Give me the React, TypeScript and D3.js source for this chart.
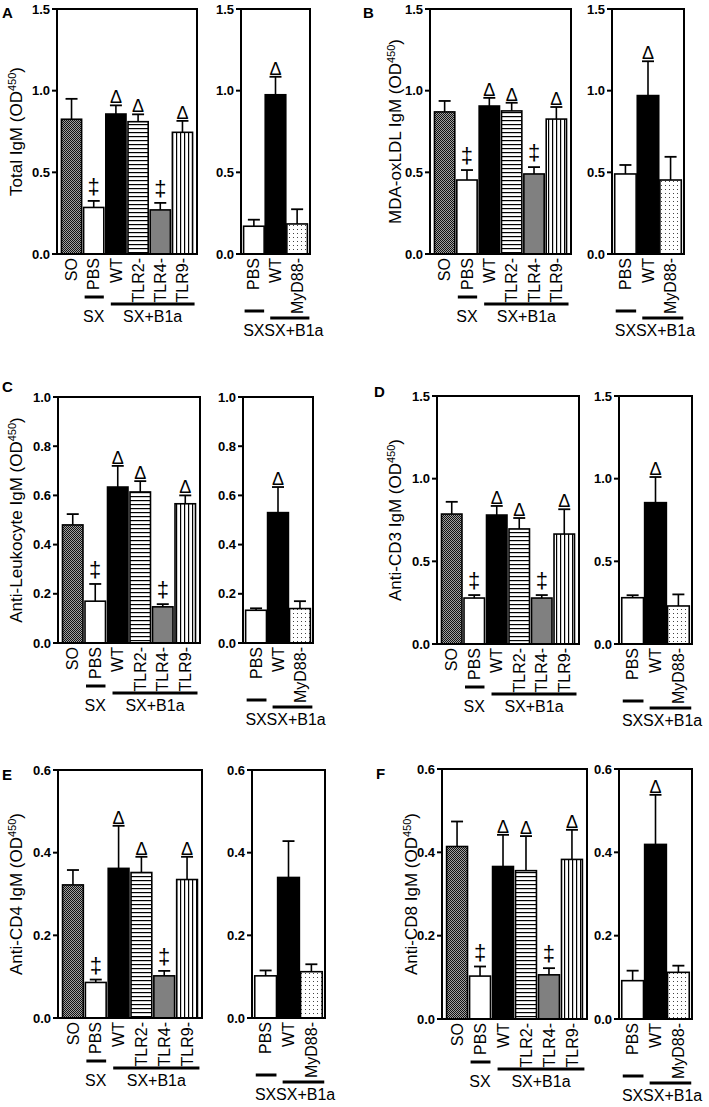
import React from "react";
import * as d3 from "d3";

// ---------- data ----------
const LEFT_CATS = ["SO", "PBS", "WT", "TLR2-", "TLR4-", "TLR9-"];
const RIGHT_CATS = ["PBS", "WT", "MyD88-"];
const LEFT_MARKS = ["", "‡", "Δ", "Δ", "‡", "Δ"];
const RIGHT_MARKS = ["", "Δ", ""];
const RIGHT_MARKS_NONE = ["", "", ""];

const TICKS_15 = [0, 0.5, 1.0, 1.5];
const TICKS_10 = [0, 0.2, 0.4, 0.6, 0.8, 1.0];
const TICKS_06 = [0, 0.2, 0.4, 0.6];

const PANEL_LETTERS = ["A", "B", "C", "D", "E", "F"];
const Y_TITLES = ["Total IgM", "MDA-oxLDL IgM", "Anti-Leukocyte IgM", "Anti-CD3 IgM", "Anti-CD4 IgM", "Anti-CD8 IgM"];

const A_LEFT = [0.825, 0.285, 0.857, 0.81, 0.27, 0.745];
const A_LEFT_ERR = [0.125, 0.04, 0.053, 0.045, 0.043, 0.07];
const A_RIGHT = [0.17, 0.975, 0.184];
const A_RIGHT_ERR = [0.04, 0.11, 0.09];

const B_LEFT = [0.87, 0.453, 0.906, 0.876, 0.49, 0.826];
const B_LEFT_ERR = [0.067, 0.061, 0.05, 0.05, 0.042, 0.074];
const B_RIGHT = [0.49, 0.97, 0.453];
const B_RIGHT_ERR = [0.055, 0.21, 0.142];

const C_LEFT = [0.48, 0.17, 0.634, 0.614, 0.147, 0.566];
const C_LEFT_ERR = [0.044, 0.07, 0.086, 0.044, 0.011, 0.034];
const C_RIGHT = [0.133, 0.53, 0.14];
const C_RIGHT_ERR = [0.008, 0.104, 0.03];

const D_LEFT = [0.786, 0.278, 0.78, 0.696, 0.278, 0.665];
const D_LEFT_ERR = [0.074, 0.018, 0.055, 0.066, 0.018, 0.15];
const D_RIGHT = [0.28, 0.855, 0.23];
const D_RIGHT_ERR = [0.015, 0.155, 0.07];

const E_LEFT = [0.322, 0.086, 0.362, 0.352, 0.102, 0.335];
const E_LEFT_ERR = [0.036, 0.007, 0.103, 0.038, 0.012, 0.055];
const E_RIGHT = [0.102, 0.34, 0.112];
const E_RIGHT_ERR = [0.013, 0.088, 0.018];

const F_LEFT = [0.414, 0.103, 0.366, 0.356, 0.106, 0.383];
const F_LEFT_ERR = [0.06, 0.023, 0.076, 0.083, 0.016, 0.071];
const F_RIGHT = [0.092, 0.419, 0.112];
const F_RIGHT_ERR = [0.024, 0.119, 0.016];

// ---------- layout ----------
const FONT = "'Liberation Sans', Arial, Helvetica, sans-serif";

const FILL: Record<string, string> = {
  "SO": "url(#pSO)",
  "PBS": "#ffffff",
  "WT": "#000000",
  "TLR2-": "url(#pH)",
  "TLR4-": "#808080",
  "TLR9-": "url(#pV)",
  "MyD88-": "url(#pDot)",
};

type PlotCfg = {
  x0: number; x1: number; top: number; bot: number;
  cats: string[]; vals: number[]; errs: number[]; marks: string[];
  max: number; ticks: number[];
  lineY: [number, number]; textY: number; right: boolean;
};

type PanelCfg = {
  letter: string; lx: number; ly: number; title: string; tx: number;
  left: PlotCfg; rightP: PlotCfg;
};

function mk(x0: number, x1: number, top: number, bot: number, cats: string[], vals: number[], errs: number[], marks: string[], max: number, ticks: number[], right: boolean): PlotCfg {
  const lineY: [number, number] = right ? [bot + 57, bot + 64] : [bot + 43, bot + 50];
  const textY = right ? bot + 82 : bot + 68;
  return { x0, x1, top, bot, cats, vals, errs, marks, max, ticks, lineY, textY, right };
}

const PANELS: PanelCfg[] = [
  {
    letter: PANEL_LETTERS[0], lx: 2, ly: 18, title: Y_TITLES[0], tx: 16,
    left: mk(57, 197, 9, 254, LEFT_CATS, A_LEFT, A_LEFT_ERR, LEFT_MARKS, 1.5, TICKS_15, false),
    rightP: mk(241, 310, 9, 254, RIGHT_CATS, A_RIGHT, A_RIGHT_ERR, RIGHT_MARKS, 1.5, TICKS_15, true),
  },
  {
    letter: PANEL_LETTERS[1], lx: 363, ly: 18, title: Y_TITLES[1], tx: 395,
    left: mk(430, 571, 9, 254, LEFT_CATS, B_LEFT, B_LEFT_ERR, LEFT_MARKS, 1.5, TICKS_15, false),
    rightP: mk(612, 684, 9, 254, RIGHT_CATS, B_RIGHT, B_RIGHT_ERR, RIGHT_MARKS, 1.5, TICKS_15, true),
  },
  {
    letter: PANEL_LETTERS[2], lx: 2, ly: 392, title: Y_TITLES[2], tx: 16,
    left: mk(58, 200, 397, 643, LEFT_CATS, C_LEFT, C_LEFT_ERR, LEFT_MARKS, 1.0, TICKS_10, false),
    rightP: mk(243, 313, 397, 643, RIGHT_CATS, C_RIGHT, C_RIGHT_ERR, RIGHT_MARKS, 1.0, TICKS_10, true),
  },
  {
    letter: PANEL_LETTERS[3], lx: 374, ly: 397, title: Y_TITLES[3], tx: 395,
    left: mk(437, 579, 396, 644, LEFT_CATS, D_LEFT, D_LEFT_ERR, LEFT_MARKS, 1.5, TICKS_15, false),
    rightP: mk(619, 692, 396, 644, RIGHT_CATS, D_RIGHT, D_RIGHT_ERR, RIGHT_MARKS, 1.5, TICKS_15, true),
  },
  {
    letter: PANEL_LETTERS[4], lx: 2, ly: 780, title: Y_TITLES[4], tx: 16,
    left: mk(58, 202, 770, 1018, LEFT_CATS, E_LEFT, E_LEFT_ERR, LEFT_MARKS, 0.6, TICKS_06, false),
    rightP: mk(252, 325, 770, 1018, RIGHT_CATS, E_RIGHT, E_RIGHT_ERR, RIGHT_MARKS_NONE, 0.6, TICKS_06, true),
  },
  {
    letter: PANEL_LETTERS[5], lx: 376, ly: 779, title: Y_TITLES[5], tx: 411,
    left: mk(442, 587, 769, 1019, LEFT_CATS, F_LEFT, F_LEFT_ERR, LEFT_MARKS, 0.6, TICKS_06, false),
    rightP: mk(619, 692, 769, 1019, RIGHT_CATS, F_RIGHT, F_RIGHT_ERR, RIGHT_MARKS, 0.6, TICKS_06, true),
  },
];

function Plot({ p }: { p: PlotCfg }) {
  const xs = d3.scaleBand<string>().domain(p.cats).range([p.x0, p.x1])
    .paddingInner(p.right ? 0.05 : 0.09).paddingOuter(p.right ? 0.12 : 0.2);
  const ys = d3.scaleLinear().domain([0, p.max]).range([p.bot, p.top]);
  const bw = xs.bandwidth();
  const fmt = d3.format(".1f");
  const capW = 6;

  const pbsX = xs("PBS")!;
  const wtX = xs("WT")!;
  const lastCat = p.cats[p.cats.length - 1];
  const lastX = xs(lastCat)!;

  return (
    <g>
      {p.cats.map((c, i) => {
        const v = p.vals[i];
        const e = p.errs[i];
        const x = xs(c)!;
        const cx = x + bw / 2;
        const yv = ys(v);
        const ye = ys(v + e);
        return (
          <g key={c}>
            <rect x={x} y={yv} width={bw} height={p.bot - yv} fill={FILL[c]} stroke="#000" strokeWidth={1.6} />
            <line x1={cx} x2={cx} y1={yv} y2={ye} stroke="#000" strokeWidth={1.6} />
            <line x1={cx - capW} x2={cx + capW} y1={ye} y2={ye} stroke="#000" strokeWidth={1.8} />
            {p.marks[i] === "Δ" && (
              <text x={cx} y={ye - 2} textAnchor="middle" fontSize={18} fontFamily={FONT} fill="#000">Δ</text>
            )}
            {p.marks[i] === "‡" && (
              <text x={cx} y={ye - 7} textAnchor="middle" fontSize={22} fontFamily={FONT} fill="#000"
                style={{ textRendering: "geometricPrecision" }}>‡</text>
            )}
            <text transform={`translate(${cx},${p.bot + 4}) rotate(-90)`} textAnchor="end" dy="0.35em"
              fontSize={16} fontFamily={FONT}>{c}</text>
          </g>
        );
      })}
      <rect x={p.x0} y={p.top} width={p.x1 - p.x0} height={p.bot - p.top} fill="none" stroke="#000" strokeWidth={2} />
      {p.ticks.map((t) => (
        <g key={t}>
          <line x1={p.x0 - 5} x2={p.x0} y1={ys(t)} y2={ys(t)} stroke="#000" strokeWidth={2} />
          <text x={p.x0 - 7} y={ys(t)} dy="0.35em" textAnchor="end" fontSize={13} fontWeight="bold" fontFamily={FONT}>{fmt(t)}</text>
        </g>
      ))}
      {/* group lines */}
      <line x1={pbsX + 1} x2={pbsX + bw} y1={p.lineY[0]} y2={p.lineY[0]} stroke="#000" strokeWidth={3} />
      <line x1={wtX + 5} x2={lastX + bw + 2} y1={p.lineY[1]} y2={p.lineY[1]} stroke="#000" strokeWidth={3} />
      <text x={pbsX + bw / 2} y={p.textY} textAnchor="middle" fontSize={16} fontFamily={FONT}>SX</text>
      <text x={p.right ? pbsX + bw / 2 + 10.5 : (wtX + 5 + lastX + bw + 2) / 2} y={p.textY}
        textAnchor={p.right ? "start" : "middle"} fontSize={16} fontFamily={FONT}>SX+B1a</text>
    </g>
  );
}

function Panel({ c }: { c: PanelCfg }) {
  const cy = (c.left.top + c.left.bot) / 2;
  return (
    <g>
      <text x={c.lx} y={c.ly} fontSize={15} fontWeight="bold" fontFamily={FONT}>{c.letter}</text>
      <text transform={`translate(${c.tx},${cy}) rotate(-90)`} textAnchor="middle" dy="0.35em" fontSize={17} fontFamily={FONT}>
        <tspan>{c.title} (OD</tspan>
        <tspan fontSize={11} dy={-6}>450</tspan>
        <tspan dy={6}>)</tspan>
      </text>
      <Plot p={c.left} />
      <Plot p={c.rightP} />
    </g>
  );
}

export default function App() {
  return (
    <svg width={709} height={1107} viewBox="0 0 709 1107"
      style={{ position: "absolute", left: 0, top: 0, background: "#fff" }}>
      <defs>
        <pattern id="pSO" width={2} height={2} patternUnits="userSpaceOnUse">
          <rect width={2} height={2} fill="#a0a0a0" />
          <rect x={0} y={0} width={1} height={1} fill="#111" />
          <rect x={1} y={1} width={1} height={1} fill="#111" />
        </pattern>
        <pattern id="pH" width={4} height={4} patternUnits="userSpaceOnUse">
          <rect width={4} height={4} fill="#fff" />
          <rect x={0} y={0} width={4} height={1.2} fill="#000" />
        </pattern>
        <pattern id="pV" width={4} height={4} patternUnits="userSpaceOnUse">
          <rect width={4} height={4} fill="#fff" />
          <rect x={0} y={0} width={1.2} height={4} fill="#000" />
        </pattern>
        <pattern id="pDot" width={4} height={4} patternUnits="userSpaceOnUse">
          <rect width={4} height={4} fill="#fff" />
          <rect x={1} y={1} width={1} height={1} fill="#444" />
        </pattern>
      </defs>
      <rect width={709} height={1107} fill="#fff" />
      {PANELS.map((c) => <Panel key={c.letter} c={c} />)}
    </svg>
  );
}
